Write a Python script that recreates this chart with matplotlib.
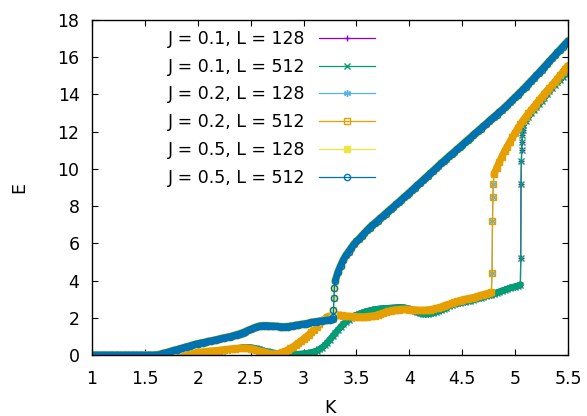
import numpy as np
import matplotlib
matplotlib.use("Agg")
import matplotlib.pyplot as plt

plt.rcParams['font.family'] = ['DejaVu Sans']

# K grid, 1.0 .. 5.5 step 0.025
K = np.round(np.linspace(1.0, 5.5, 181), 3)

# J = 0.1
E_j01 = [0.0] * 31 + [
    0.01, 0.02, 0.03, 0.04, 0.05, 0.06, 0.07, 0.08, 0.09, 0.10,
    0.11, 0.12, 0.14, 0.15, 0.17, 0.18, 0.20, 0.22, 0.24, 0.26,
    0.28, 0.30, 0.32, 0.34, 0.36, 0.38, 0.40, 0.41, 0.41, 0.40,
    0.38, 0.35, 0.31, 0.27, 0.23, 0.19, 0.16, 0.13, 0.11, 0.09,
    0.08, 0.07, 0.06, 0.05, 0.04, 0.04, 0.04, 0.05, 0.06, 0.07,
    0.09, 0.11, 0.14, 0.18, 0.23, 0.30, 0.40, 0.52, 0.67, 0.83,
    1.00, 1.17, 1.34, 1.50, 1.65, 1.78, 1.90, 2.00, 2.08, 2.15,
    2.21, 2.26, 2.31, 2.35, 2.39, 2.42, 2.45, 2.47, 2.49, 2.50,
    2.51, 2.52, 2.53, 2.54, 2.55, 2.56, 2.56, 2.55, 2.52, 2.47,
    2.41, 2.35, 2.29, 2.24, 2.21, 2.20, 2.21, 2.23, 2.26, 2.30,
    2.35, 2.41, 2.48, 2.55, 2.62, 2.68, 2.73, 2.77, 2.80, 2.83,
    2.86, 2.89, 2.92, 2.96, 3.00, 3.04, 3.08, 3.12, 3.16, 3.20,
    3.25, 3.30, 3.35, 3.40, 3.45, 3.50, 3.55, 3.60, 3.64, 3.68,
    3.72, 3.78,
    12.35, 12.6, 12.8, 13.0, 13.15, 13.3, 13.48, 13.65,
    13.82, 14.0, 14.17, 14.35, 14.5, 14.65, 14.8, 14.95, 15.12, 15.3]
K_jump_j01 = [5.053, 5.056, 5.059, 5.062, 5.065, 5.068, 5.071]
E_jump_j01 = [5.2, 9.2, 10.4, 11.0, 11.45, 11.8, 12.1]

# J = 0.2
E_j02 = [0.0] * 27 + [
    0.01, 0.02, 0.03, 0.04, 0.05, 0.06, 0.07, 0.08, 0.09, 0.10, 0.11, 0.12, 0.13, 0.15,
    0.16, 0.17, 0.18, 0.20, 0.21, 0.22, 0.24, 0.25, 0.27, 0.28,
    0.30, 0.31, 0.33, 0.34, 0.35, 0.36, 0.37, 0.37, 0.36, 0.34,
    0.31, 0.27, 0.23, 0.19, 0.15, 0.11, 0.08, 0.06, 0.05, 0.06,
    0.09, 0.14, 0.20, 0.27, 0.35, 0.44, 0.54, 0.65, 0.76, 0.87,
    0.98, 1.10, 1.23, 1.37, 1.52, 1.67, 1.82, 1.95, 2.05, 2.10,
    2.13, 2.15, 2.15, 2.14, 2.12, 2.10, 2.08, 2.07, 2.06, 2.06,
    2.05, 2.05, 2.05, 2.06, 2.07, 2.09, 2.12, 2.16, 2.20, 2.25,
    2.30, 2.34, 2.38, 2.41, 2.43, 2.44, 2.45, 2.45, 2.45, 2.44,
    2.43, 2.42, 2.41, 2.40, 2.40, 2.41, 2.42, 2.44, 2.47, 2.50,
    2.54, 2.58, 2.63, 2.68, 2.73, 2.78, 2.83, 2.88, 2.92, 2.96,
    2.99, 3.02, 3.05, 3.08, 3.12, 3.16, 3.20, 3.24, 3.28, 3.32,
    3.36,
    9.7, 10.05, 10.35, 10.65, 10.95, 11.2, 11.45, 11.7, 11.95,
    12.18, 12.4, 12.6, 12.8, 12.98, 13.15, 13.33, 13.5, 13.68, 13.85,
    14.02, 14.2, 14.35, 14.5, 14.68, 14.85, 15.02, 15.2, 15.38, 15.55]
K_jump_j02 = [4.782, 4.786, 4.790, 4.794]
E_jump_j02 = [4.4, 7.2, 8.5, 9.2]

# J = 0.5
E_j05 = [0.0] * 25 + [
    0.02, 0.05, 0.09, 0.13, 0.17, 0.21, 0.25, 0.29, 0.33, 0.37, 0.41, 0.45, 0.49, 0.53, 0.57, 0.61,
    0.64, 0.67, 0.70, 0.73, 0.76, 0.79, 0.82, 0.86, 0.89, 0.92,
    0.95, 0.98, 1.02, 1.06, 1.10, 1.15, 1.20, 1.26, 1.32, 1.38,
    1.44, 1.50, 1.54, 1.57, 1.58, 1.58, 1.57, 1.56, 1.55, 1.54,
    1.53, 1.52, 1.52, 1.53, 1.55, 1.57, 1.60, 1.62, 1.64, 1.66,
    1.69, 1.72, 1.75, 1.78, 1.80, 1.82, 1.84, 1.86, 1.88, 1.90,
    1.92,
    4.0, 4.45, 4.8, 5.1, 5.35, 5.55, 5.75, 5.95, 6.1,
    6.25, 6.4, 6.55, 6.7, 6.85, 6.98, 7.1, 7.22, 7.35, 7.47,
    7.6, 7.72, 7.85, 7.97, 8.1, 8.22, 8.35, 8.48, 8.6, 8.73,
    8.86, 8.99, 9.12, 9.25, 9.38, 9.51, 9.64, 9.77, 9.9, 10.03,
    10.16, 10.3, 10.42, 10.55, 10.67, 10.8, 10.92, 11.05, 11.17, 11.3,
    11.42, 11.55, 11.67, 11.8, 11.92, 12.05, 12.17, 12.3, 12.42, 12.55,
    12.67, 12.8, 12.92, 13.05, 13.17, 13.3, 13.43, 13.57, 13.71, 13.85,
    13.99, 14.13, 14.27, 14.42, 14.57, 14.72, 14.87, 15.02, 15.17, 15.33,
    15.48, 15.64, 15.79, 15.95, 16.1, 16.26, 16.41, 16.57, 16.72, 16.88]
K_jump_j05 = [3.279, 3.283, 3.287, 3.291]
E_jump_j05 = [2.05, 2.4, 3.05, 3.6]

labels = ["J = 0.1, L = 128", "J = 0.1, L = 512", "J = 0.2, L = 128",
          "J = 0.2, L = 512", "J = 0.5, L = 128", "J = 0.5, L = 512"]
colors = ["#9400d3", "#009e73", "#56b4e9", "#e69f00", "#f0e442", "#0072b2"]
xticks = [1, 1.5, 2, 2.5, 3, 3.5, 4, 4.5, 5, 5.5]
xticklabels = ["1", "1.5", "2", "2.5", "3", "3.5", "4", "4.5", "5", "5.5"]
yticks = [0, 2, 4, 6, 8, 10, 12, 14, 16, 18]

series = [(E_j01, K_jump_j01, E_jump_j01), (E_j01, K_jump_j01, E_jump_j01),
          (E_j02, K_jump_j02, E_jump_j02), (E_j02, K_jump_j02, E_jump_j02),
          (E_j05, K_jump_j05, E_jump_j05), (E_j05, K_jump_j05, E_jump_j05)]
styles = [dict(marker="+", ms=5, mfc=colors[0]),
          dict(marker="x", ms=4.5, mfc=colors[1]),
          dict(marker=(6, 2, 0), ms=5, mfc=colors[2]),
          dict(marker="s", ms=4.5, mfc="none"),
          dict(marker="s", ms=4.5, mfc=colors[4]),
          dict(marker="o", ms=4.5, mfc="none")]
# the dense markers of the original look like a solid band
band_w = [4.5, 4.5, 4.5, 5.0, 5.8, 5.0]

fig = plt.figure(figsize=(5.87, 4.16), dpi=100)
ax = fig.add_axes([92 / 587, 61 / 416, 476 / 587, 335 / 416])

for (e, kj, ej), lab, c, st, bw in zip(series, labels, colors, styles, band_w):
    e = np.array(e, float)
    n = np.searchsorted(K, kj[0])
    ax.plot(K[:n], e[:n], color=c, lw=bw, solid_capstyle="round")
    ax.plot(K[n:], e[n:], color=c, lw=bw, solid_capstyle="round")
    k_all = np.concatenate([K[:n], kj, K[n:]])
    e_all = np.concatenate([e[:n], ej, e[n:]])
    ax.plot(k_all, e_all, color=c, lw=0.9, mew=1.0, mec=c, label=lab, **st)

ax.set_xlim(1, 5.5)
ax.set_ylim(0, 18)
ax.set_xticks(xticks)
ax.set_xticklabels(xticklabels)
ax.set_yticks(yticks)
ax.tick_params(direction="in", top=True, right=True, length=4.5, width=0.8,
               labelsize=12.5, colors="black")
ax.tick_params(axis="x", pad=10.5)
ax.tick_params(axis="y", pad=9)
for s in ax.spines.values():
    s.set_linewidth(1.0)

ax.set_xlabel("K", fontsize=12.5)
ax.set_ylabel("E", fontsize=12.5)
ax.xaxis.set_label_coords(0.5, -0.13)
ax.yaxis.set_label_coords(-0.134, 0.5)

leg = ax.legend(loc="upper right", bbox_to_anchor=(375 / 587, 1 - 30 / 416),
                bbox_transform=fig.transFigure, frameon=False, fontsize=12.5,
                markerfirst=False, numpoints=1, handlelength=3.2,
                handletextpad=0.8, labelspacing=0.56, borderpad=0,
                borderaxespad=0)

fig.savefig("out.png", dpi=100)
